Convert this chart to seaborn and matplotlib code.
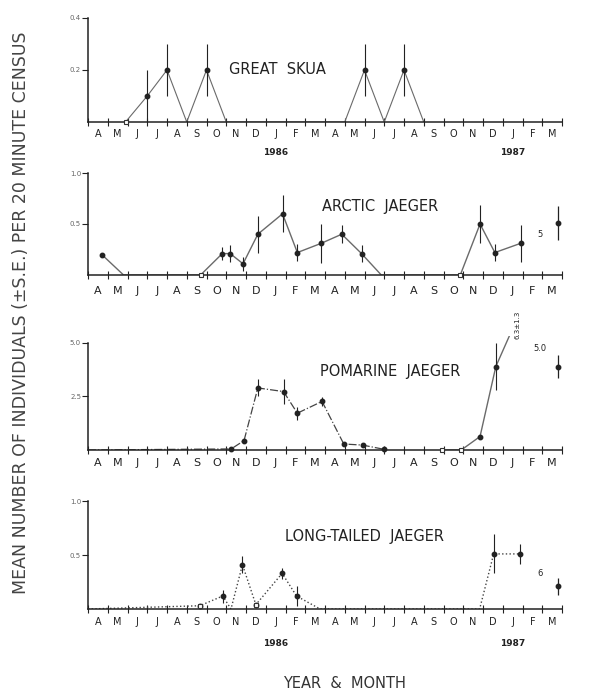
import matplotlib
matplotlib.use("Agg")
import matplotlib.pyplot as plt
import seaborn as sns
import pandas as pd

# month labels, April 1985 -> March 1987 (labels sit between the month ticks)
months = ["A", "M", "J", "J", "A", "S", "O", "N", "D", "J", "F", "M",
          "A", "M", "J", "J", "A", "S", "O", "N", "D", "J", "F", "M"]
years = ["1986", "1987"]
year_pos = [9.5, 21.5]

# GREAT SKUA
skua_x = [1.9, 3, 4, 5, 6, 7, 13, 14, 15, 16, 17]
skua_y = [0, 0.1, 0.2, 0, 0.2, 0, 0, 0.2, 0, 0.2, 0]
skua_se = [0, 0.1, 0.1, 0, 0.1, 0, 0, 0.1, 0, 0.1, 0]
skua_open = [1.9]

# ARCTIC JAEGER
arctic_x = [0.7, 1.8, 5.7, 6.8, 7.2, 7.85, 8.6, 9.85, 10.6, 11.8, 12.85, 13.85,
            14.85, 18.85, 19.85, 20.6, 21.9]
arctic_y = [0.2, 0, 0, 0.21, 0.21, 0.11, 0.40, 0.60, 0.22, 0.31, 0.40, 0.21,
            0, 0, 0.50, 0.22, 0.31]
arctic_se = [0, 0, 0, 0.06, 0.08, 0.07, 0.18, 0.18, 0.08, 0.19, 0.09, 0.08,
             0, 0, 0.19, 0.08, 0.18]
arctic_open = [5.7, 18.85]
arctic_last = (23.8, 0.51, 0.17, "5")

# POMARINE JAEGER (two seasons)
pom1_x = [0, 7.25, 7.9, 8.6, 9.9, 10.6, 11.85, 12.95, 13.9, 15.0]
pom1_y = [0, 0.05, 0.44, 2.9, 2.73, 1.72, 2.27, 0.28, 0.23, 0.03]
pom1_se = [0, 0, 0, 0.4, 0.6, 0.3, 0.2, 0, 0, 0]
pom2_x = [17.9, 18.9, 19.85, 20.65, 21.8]
pom2_y = [0, 0, 0.63, 3.9, 6.3]
pom2_se = [0, 0, 0, 1.1, 0]
pom_open = [17.9, 18.9]
pom_last = (23.8, 3.9, 0.55, "5.0")

# LONG-TAILED JAEGER
lt_x = [0, 5.66, 6.82, 7.24, 7.82, 8.5, 9.83, 10.56, 11.75, 19.83, 20.54, 21.85]
lt_y = [0, 0.03, 0.12, 0, 0.41, 0.04, 0.33, 0.12, 0, 0, 0.51, 0.51]
lt_se = [0, 0, 0.06, 0, 0.08, 0, 0.05, 0.09, 0, 0, 0.18, 0.09]
lt_open = [5.66, 8.5]
lt_last = (23.8, 0.21, 0.08, "6")

sns.set_theme(style="ticks")
plt.rcParams["font.family"] = ["DejaVu Sans"]

W, H = 592, 691
fig = plt.figure(figsize=(W / 100, H / 100), dpi=100)

INK = "#222222"
LINE = "#6a6a6a"


def make_ax(base_px, height_px, ylim, yticks, ylabels, top_bound):
    ax = fig.add_axes([88 / W, (H - base_px) / H, 474 / W, height_px / H])
    ax.set_xlim(0, 24)
    ax.set_ylim(*ylim)
    sns.despine(ax=ax)
    ax.spines["left"].set_bounds(0, top_bound)
    ax.spines["bottom"].set_color(INK)
    ax.spines["left"].set_color(INK)
    ax.spines["bottom"].set_linewidth(1.1)
    ax.spines["left"].set_linewidth(1.1)
    ax.set_xticks(range(25))
    ax.set_xticklabels([])
    ax.set_xticks([i + 0.5 for i in range(24)], months, minor=True)
    ax.tick_params(axis="x", which="major", direction="inout", length=6, width=0.8, color=INK)
    ax.tick_params(axis="x", which="minor", length=0, pad=6, labelsize=7, labelcolor=INK)
    ax.set_yticks(yticks, ylabels)
    ax.tick_params(axis="y", length=4, width=0.8, color=INK, pad=1, labelsize=5, labelcolor="#666666")
    ax.set_xlabel("")
    ax.set_ylabel("")
    ax.set_facecolor("white")
    return ax


def draw_series(ax, x, y, se, open_x, ls, lw=0.9, color=LINE):
    df = pd.DataFrame({"month": x, "n": y, "se": se})
    sns.lineplot(data=df, x="month", y="n", ax=ax, sort=False, estimator=None,
                 color=color, linewidth=lw, linestyle=ls)
    top = ax.get_ylim()[1]
    pos = df[(df["n"] > 0) & (df["n"] <= top)]
    ax.errorbar(pos["month"], pos["n"], yerr=pos["se"], fmt="o", ms=3.2, color=INK,
                elinewidth=0.8, capsize=0, clip_on=False, zorder=4)
    op = df[df["month"].isin(open_x)]
    ax.plot(op["month"], op["n"], "s", mfc="white", mec="#333333", ms=3.5, mew=0.8,
            clip_on=False, zorder=5)
    ax.set_xlabel("")
    ax.set_ylabel("")


def draw_last(ax, last, dy):
    x, y, se, n = last
    ax.errorbar([x], [y], yerr=[se], fmt="o", ms=3.2, color=INK, elinewidth=0.9,
                capsize=0, clip_on=False)
    ax.text(x - 0.9, y + dy, n, fontsize=6, color=INK, ha="center", va="center")


def year_labels(ax, off):
    for yr, xp in zip(years, year_pos):
        ax.annotate(yr, xy=(xp, 0), xycoords=("data", "axes fraction"),
                    xytext=(0, off), textcoords="offset points",
                    ha="center", va="center", fontsize=6.5, color=INK, fontweight="bold")


title_kw = dict(fontsize=10.5, color=INK, ha="center", va="center")

# panel 1
ax1 = make_ax(122, 104, (0, 0.4), [0.2, 0.4], ["0.2", "0.4"], 0.4)
draw_series(ax1, skua_x, skua_y, skua_se, skua_open, "-", lw=0.8)
ax1.text(9.6, 0.2, "GREAT  SKUA", **title_kw)
ax1.tick_params(axis="x", which="minor", pad=5)
year_labels(ax1, -22)

# panel 2
ax2 = make_ax(275, 102, (0, 1.0), [0.5, 1.0], ["0.5", "1.0"], 1.0)
draw_series(ax2, arctic_x, arctic_y, arctic_se, arctic_open, "-", lw=1.0)
draw_last(ax2, arctic_last, -0.11)
ax2.text(14.8, 0.67, "ARCTIC  JAEGER", **title_kw)
ax2.tick_params(axis="x", which="minor", pad=8, labelsize=8)

# panel 3
ax3 = make_ax(450, 114.5, (0, 5.35), [2.5, 5.0], ["2.5", "5.0"], 5.0)
draw_series(ax3, pom1_x, pom1_y, pom1_se, pom_open, "-.", lw=0.9, color="#444444")
draw_series(ax3, pom2_x, pom2_y, pom2_se, pom_open, "-", lw=1.0)
draw_last(ax3, pom_last, 0.85)
ax3.text(21.75, 5.85, "6.3±1.3", rotation=90, fontsize=5, color=INK, ha="center", va="center")
ax3.text(15.3, 3.69, "POMARINE  JAEGER", **title_kw)
ax3.tick_params(axis="x", which="minor", pad=6, labelsize=8)

# panel 4
ax4 = make_ax(609, 108, (0, 1.0), [0.5, 1.0], ["0.5", "1.0"], 1.0)
draw_series(ax4, lt_x, lt_y, lt_se, lt_open, ":", lw=1.0, color="#444444")
draw_last(ax4, lt_last, 0.12)
ax4.text(14.0, 0.67, "LONG-TAILED  JAEGER", **title_kw)
ax4.tick_params(axis="x", which="minor", pad=6)
year_labels(ax4, -25)

fig.text(21 / W, 1 - 313 / H, "MEAN NUMBER OF INDIVIDUALS (±S.E.) PER 20 MINUTE CENSUS",
         rotation=90, ha="center", va="center", fontsize=12.5, color="#444444")
fig.text(344 / W, 1 - 683 / H, "YEAR  &  MONTH", ha="center", va="center",
         fontsize=10.5, color="#333333")

fig.savefig("out.png", dpi=100, facecolor="white")
